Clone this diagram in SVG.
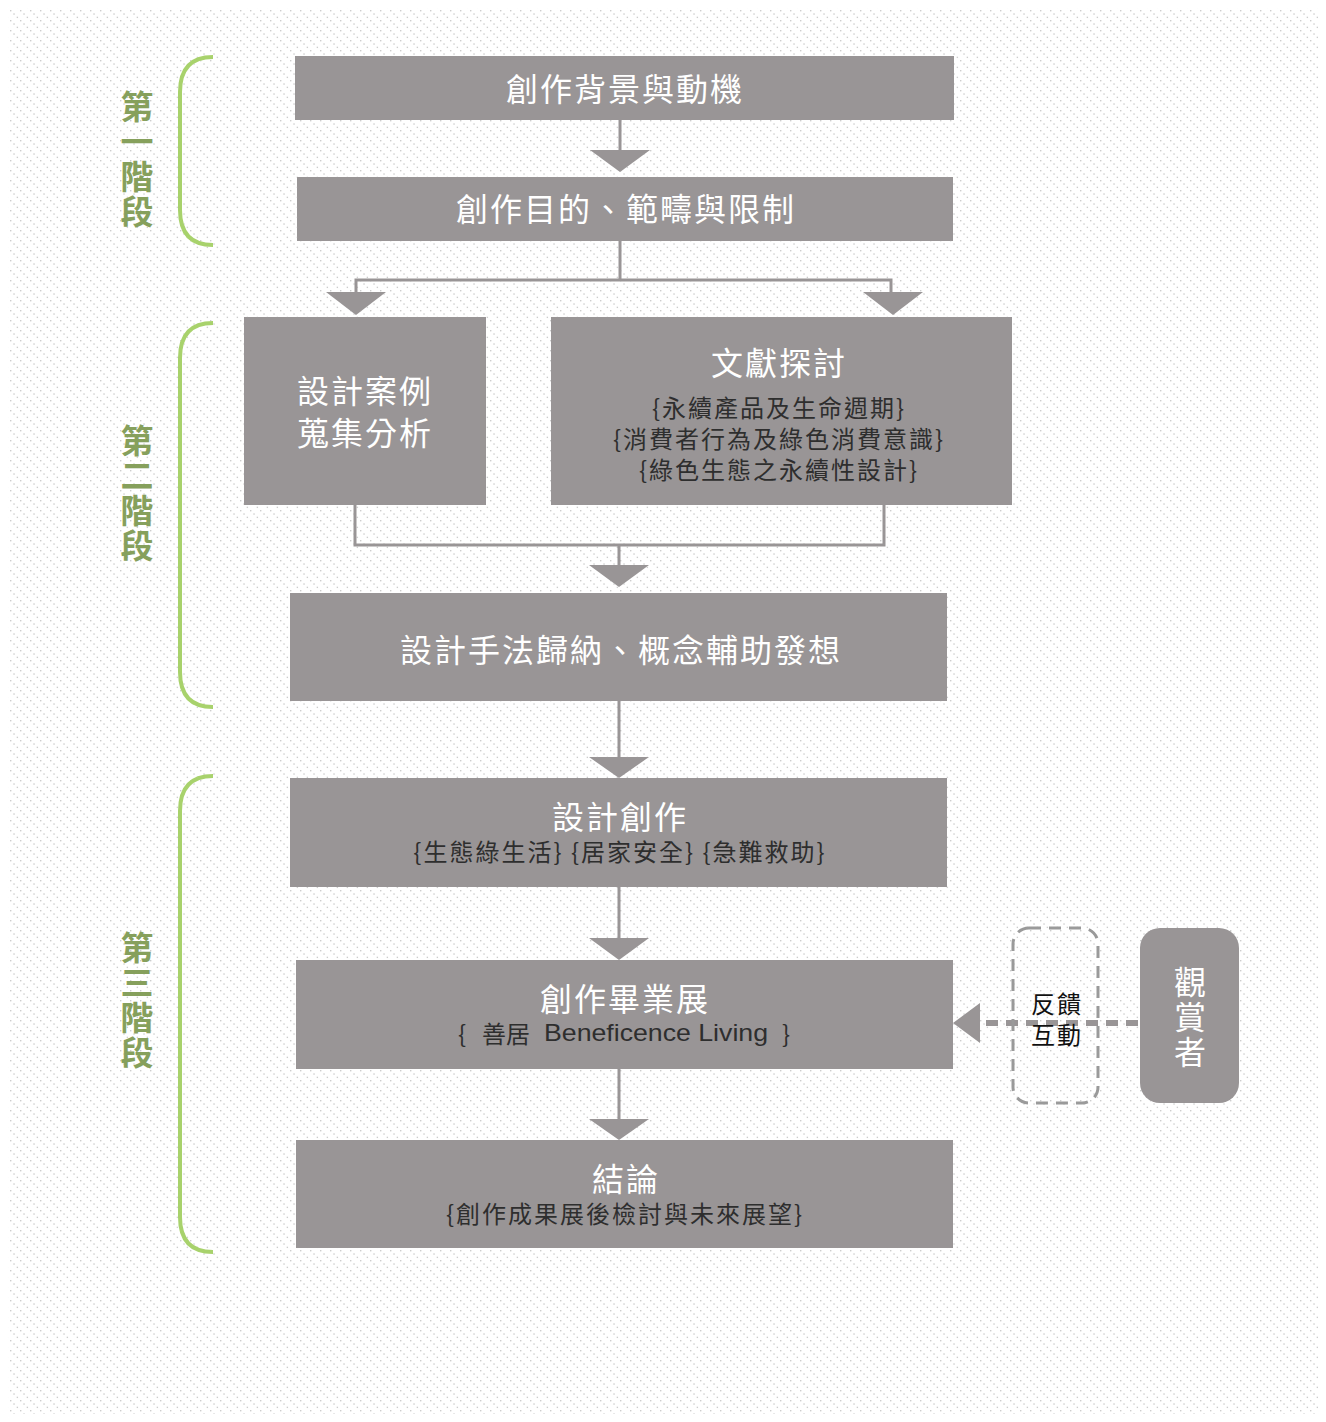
<svg xmlns="http://www.w3.org/2000/svg" width="1326" height="1422" viewBox="0 0 1326 1422">
<defs>
<pattern id="bg" width="10" height="10" patternUnits="userSpaceOnUse">
<rect x="0" y="0" width="1.4" height="1.4" fill="#cdcdcd"/>
<rect x="3.33" y="3.33" width="1.4" height="1.4" fill="#cdcdcd"/>
<rect x="6.67" y="6.67" width="1.4" height="1.4" fill="#cdcdcd"/>
</pattern>
<style>
.box{fill:#999596;}
.tx{font-family:"Noto Sans CJK TC","Noto Sans CJK SC",sans-serif;text-anchor:middle;dominant-baseline:central;}
.t{fill:#ffffff;font-size:32px;letter-spacing:2px;}
.s{fill:#2e2e2e;font-size:24px;letter-spacing:2px;}
.st{font-family:"Noto Sans CJK TC","Noto Sans CJK SC",sans-serif;fill:#86a05c;font-size:33px;font-weight:bold;letter-spacing:2px;writing-mode:vertical-rl;}
.vt{font-family:"Noto Sans CJK TC","Noto Sans CJK SC",sans-serif;fill:#ffffff;font-size:32px;letter-spacing:3px;writing-mode:vertical-rl;}
.fb{fill:#111111;font-size:24px;letter-spacing:2px;}
.brace{fill:none;stroke:#a8d26c;stroke-width:4;}
.ln{fill:none;stroke:#999596;stroke-width:3;}
.ah{fill:#999596;}
</style>
</defs>
<rect x="0" y="0" width="1326" height="1422" fill="#ffffff"/>
<rect x="8" y="8" width="1310" height="1406" fill="url(#bg)"/>

<g id="stages">
<path class="brace" d="M213,57 Q180,57 180,92 L180,210 Q180,245 213,245"/>
<path class="brace" d="M213,323 Q180,323 180,358 L180,672 Q180,707 213,707"/>
<path class="brace" d="M213,776 Q180,776 180,811 L180,1217 Q180,1252 213,1252"/>
<text class="st" x="137" y="90">第一階段</text>
<text class="st" x="137" y="424">第二階段</text>
<text class="st" x="137" y="931">第三階段</text>
</g>

<g id="connectors">
<line class="ln" x1="620" y1="120" x2="620" y2="152"/>
<polygon class="ah" points="590,150 650,150 620,172"/>
<polyline class="ln" points="620,241 620,280"/>
<polyline class="ln" points="356,294 356,280 891,280 891,294"/>
<polygon class="ah" points="326,292 386,292 356,315"/>
<polygon class="ah" points="863,292 923,292 893,315"/>
<polyline class="ln" points="355,505 355,545 884,545 884,505"/>
<line class="ln" x1="619" y1="545" x2="619" y2="567"/>
<polygon class="ah" points="589,565 649,565 619,587"/>
<line class="ln" x1="619" y1="701" x2="619" y2="759"/>
<polygon class="ah" points="589,757 649,757 619,778"/>
<line class="ln" x1="619" y1="887" x2="619" y2="940"/>
<polygon class="ah" points="589,938 649,938 619,960"/>
<line class="ln" x1="619" y1="1069" x2="619" y2="1121"/>
<polygon class="ah" points="589,1119 649,1119 619,1140"/>
<line x1="1138" y1="1023" x2="978" y2="1023" stroke="#999596" stroke-width="6" stroke-dasharray="12 8"/>
<polygon class="ah" points="953,1023 980,1003 980,1043"/>
</g>

<g id="n1">
<rect class="box" x="295" y="56" width="659" height="64"/>
<text class="tx t" x="625" y="87">創作背景與動機</text>
</g>
<g id="n2">
<rect class="box" x="297" y="177" width="656" height="64"/>
<text class="tx t" x="626" y="207">創作目的、範疇與限制</text>
</g>
<g id="n3">
<rect class="box" x="244" y="317" width="242" height="188"/>
<text class="tx t"><tspan x="365" y="389">設計案例</tspan><tspan x="365" y="431">蒐集分析</tspan></text>
</g>
<g id="n4">
<rect class="box" x="551" y="317" width="461" height="188"/>
<text class="tx"><tspan class="t" x="779" y="361">文獻探討</tspan><tspan class="s" x="779" y="406">{永續產品及生命週期}</tspan><tspan class="s" x="779" y="437">{消費者行為及綠色消費意識}</tspan><tspan class="s" x="779" y="468">{綠色生態之永續性設計}</tspan></text>
</g>
<g id="n5">
<rect class="box" x="290" y="593" width="657" height="108"/>
<text class="tx t" x="621" y="648">設計手法歸納、概念輔助發想</text>
</g>
<g id="n6">
<rect class="box" x="290" y="778" width="657" height="109"/>
<text class="tx"><tspan class="t" x="620" y="815">設計創作</tspan><tspan class="s" x="620" y="850">{生態綠生活} {居家安全} {急難救助}</tspan></text>
</g>
<g id="n7">
<rect class="box" x="296" y="960" width="657" height="109"/>
<text class="tx"><tspan class="t" x="625" y="997">創作畢業展</tspan><tspan class="s" x="462" y="1032" style="letter-spacing:0">{</tspan><tspan class="s" x="506" y="1032" style="letter-spacing:0">善居</tspan><tspan class="s" x="656" y="1032" style="letter-spacing:0;font-family:'Liberation Sans',Arial,sans-serif" textLength="224" lengthAdjust="spacingAndGlyphs">Beneficence Living</tspan><tspan class="s" x="786" y="1032" style="letter-spacing:0">}</tspan></text>
</g>
<g id="n8">
<rect class="box" x="296" y="1140" width="657" height="108"/>
<text class="tx"><tspan class="t" x="626" y="1177">結論</tspan><tspan class="s" x="625" y="1212">{創作成果展後檢討與未來展望}</tspan></text>
</g>
<g id="n9">
<rect x="1013" y="928" width="85" height="175" rx="16" fill="none" stroke="#9a9a9a" stroke-width="3" stroke-dasharray="12 8"/>
<text class="tx fb"><tspan x="1057" y="1002">反饋</tspan><tspan x="1057" y="1033">互動</tspan></text>
</g>
<g id="n10">
<rect class="box" x="1140" y="928" width="99" height="175" rx="20"/>
<text class="vt" x="1190" y="966">觀賞者</text>
</g>
</svg>
